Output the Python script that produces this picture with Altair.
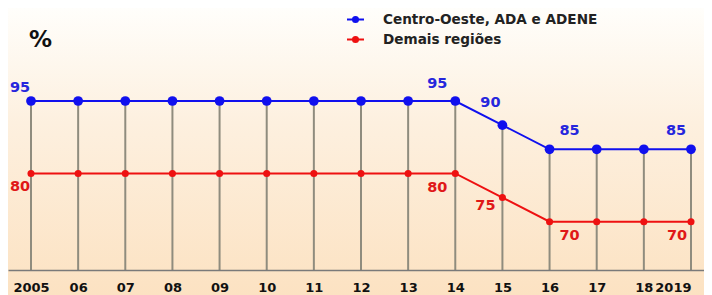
import altair as alt
import pandas as pd

years = list(range(2005, 2020))
centro = [95, 95, 95, 95, 95, 95, 95, 95, 95, 95, 90, 85, 85, 85, 85]
demais = [80, 80, 80, 80, 80, 80, 80, 80, 80, 80, 75, 70, 70, 70, 70]
series_names = ["Centro-Oeste, ADA e ADENE", "Demais regiões"]
labeled_years = [2005, 2014, 2015, 2016, 2019]

rows = []
for y, a, b in zip(years, centro, demais):
    rows.append({"year": y, "value": a, "series": series_names[0]})
    rows.append({"year": y, "value": b, "series": series_names[1]})
df = pd.DataFrame(rows)
rules_df = pd.DataFrame({"year": years, "top": centro})

W, H = 696, 262
BLUE, RED = "#1010ee", "#ee1111"
BLUE_T, RED_T = "#2626dd", "#e01818"

xscale = alt.Scale(domain=[2004.512, 2019.276], nice=False, zero=False)
yscale = alt.Scale(domain=[60, 114.26], nice=False, zero=False)
cscale = alt.Scale(domain=series_names, range=[BLUE, RED])

x_axis = alt.Axis(values=years, labelExpr="datum.value == 2005 || datum.value == 2019 ? '' + datum.value : slice('' + datum.value, 2)",
                  ticks=False, tickSize=0, grid=False, domainColor="#7a7a7a", domainWidth=1.5,
                  labelFont="DejaVu Sans", labelFontSize=13, labelFontWeight="bold", labelColor="#111",
                  labelPadding=11, title=None, labelFlush=15, labelOverlap=False, zindex=1)
y_axis = alt.Axis(title="%", labels=False, ticks=False, domain=False, grid=False, titleAngle=0,
                  titleX=32, titleY=31, titleFont="DejaVu Sans", titleFontSize=23, titleFontWeight="bold",
                  titleColor="#111", titleAlign="center", titleBaseline="middle", zindex=1)

bg = alt.Chart(alt.Data(values=[{}])).mark_rect(
    fill=alt.Gradient(gradient="linear", x1=0, x2=0, y1=0, y2=1,
                      stops=[alt.GradientStop(color="#fffefb", offset=0),
                             alt.GradientStop(color="#fdf0df", offset=0.4),
                             alt.GradientStop(color="#fce2c2", offset=1)])
).encode(x=alt.value(0), x2=alt.value(W), y=alt.value(0), y2=alt.value(H + 25))

rules = alt.Chart(rules_df).mark_rule(color="#8f8c7e", strokeWidth=2).encode(
    x=alt.X("year:Q", scale=xscale, axis=x_axis),
    y=alt.Y("top:Q", scale=yscale, axis=y_axis),
    y2=alt.datum(60),
)

legend_sym = "M-1,0H1M-0.3,0a0.3,0.3 0 1,0 0.6,0a0.3,0.3 0 1,0 -0.6,0"
leg = alt.Legend(
    title=None, orient="none", legendX=338, legendY=2, padding=0, zindex=1,
    symbolType=legend_sym, symbolSize=289, symbolStrokeWidth=2, symbolOpacity=1,
    symbolFillColor=BLUE,
    labelFont="DejaVu Sans", labelFontSize=13.6, labelFontWeight="bold", labelColor="#222",
    labelOffset=18, rowPadding=3, labelLimit=400)

lines = alt.Chart(df).mark_line(strokeWidth=2).encode(
    x=alt.X("year:Q", scale=xscale),
    y=alt.Y("value:Q", scale=yscale),
    color=alt.Color("series:N", scale=cscale, legend=leg),
)

def point_layer(s, size):
    return alt.Chart(df).transform_filter(alt.datum.series == s).mark_point(
        filled=True, opacity=1, size=size).encode(
        x=alt.X("year:Q", scale=xscale),
        y=alt.Y("value:Q", scale=yscale),
        fill=alt.Fill("series:N", scale=cscale, legend=None),
    )

points_blue = point_layer(series_names[0], 95)
points_red = point_layer(series_names[1], 50)

offsets = {
    (series_names[0], 2005): (-11, -13),
    (series_names[0], 2014): (-18, -17),
    (series_names[0], 2015): (-12, -22),
    (series_names[0], 2016): (20, -18),
    (series_names[0], 2019): (-15, -18),
    (series_names[1], 2005): (-11, 14),
    (series_names[1], 2014): (-18, 15),
    (series_names[1], 2015): (-17, 8),
    (series_names[1], 2016): (20, 14),
    (series_names[1], 2019): (-14, 14),
}

texts = []
for (s, yr), (dx, dy) in offsets.items():
    t = alt.Chart(df).transform_filter(
        (alt.datum.series == s) & (alt.datum.year == yr)
    ).mark_text(font="DejaVu Sans", fontSize=14.5, fontWeight="bold", dx=dx, dy=dy,
                color=BLUE_T if s == series_names[0] else RED_T, align="center", baseline="middle").encode(
        x=alt.X("year:Q", scale=xscale),
        y=alt.Y("value:Q", scale=yscale),
        text=alt.Text("value:Q"),
    )
    texts.append(t)

chart = alt.layer(bg, rules, lines, points_blue, points_red, *texts).properties(
    width=W, height=H,
    autosize=alt.AutoSizeParams(type="none"),
    padding={"left": 0, "top": 0, "right": 0, "bottom": 25},
).configure_view(stroke=None)

chart.save("out.html", embed_options={"renderer": "svg", "actions": False})
